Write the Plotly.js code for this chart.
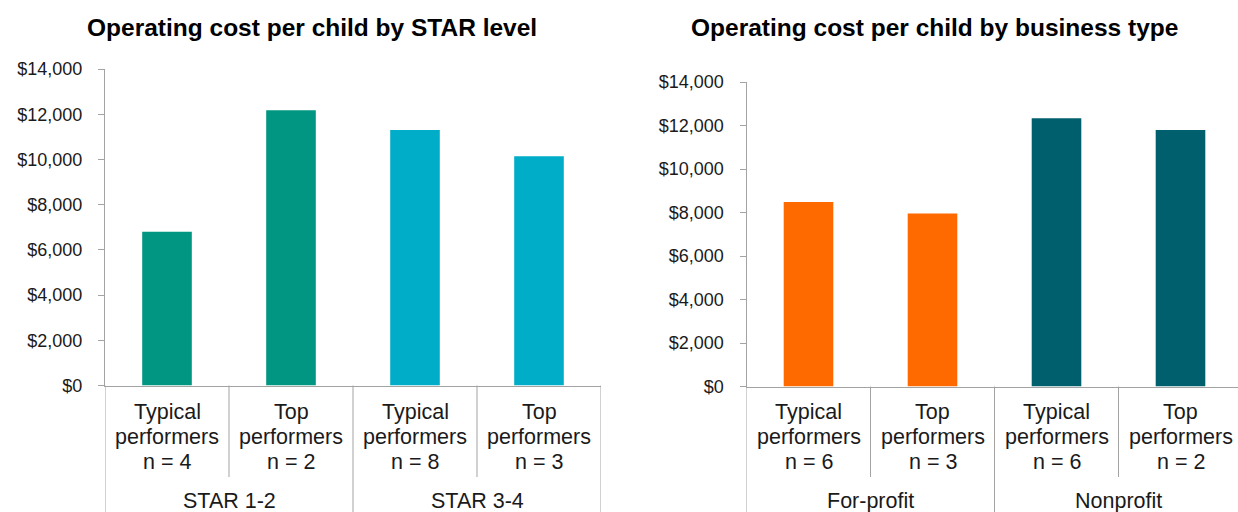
<!DOCTYPE html>
<html>
<head>
<meta charset="utf-8">
<script src="https://cdn.plot.ly/plotly-3.0.1.min.js"></script>
<style>
  html, body { margin: 0; padding: 0; background: #ffffff; overflow: hidden; }
  #chart { width: 1238px; height: 512px; }
</style>
</head>
<body>
<div id="chart"></div>
<script>
// ---- Data ----
const starTitle = 'Operating cost per child by STAR level';
const starCategories = ['Typical performers', 'Top performers', 'Typical performers', 'Top performers'];
const starN = [4, 2, 8, 3];
const starGroups = ['STAR 1-2', 'STAR 3-4'];
const starCost = [6800, 12180, 11300, 10140];

const bizTitle = 'Operating cost per child by business type';
const bizCategories = ['Typical performers', 'Top performers', 'Typical performers', 'Top performers'];
const bizN = [6, 3, 6, 2];
const bizGroups = ['For-profit', 'Nonprofit'];
const bizCost = [8480, 7950, 12330, 11790];

const yTickValues = [0, 2000, 4000, 6000, 8000, 10000, 12000, 14000];
const yTickLabels = ['$0', '$2,000', '$4,000', '$6,000', '$8,000', '$10,000', '$12,000', '$14,000'];

// ---- Styling ----
const W = 1238, H = 512;
const FONT = '"Liberation Sans", Arial, sans-serif';
const TXT = '#1a1a1a';
const AXC = '#a3a3a3';
const starColors = ['#009681', '#009681', '#00adc8', '#00adc8'];
const bizColors = ['#ff6a00', '#ff6a00', '#005f6c', '#005f6c'];

const py = p => 1 - p / H;   // pixel row -> paper y
const px = p => p / W;       // pixel col -> paper x

const idx = starCost.map((_, i) => i);

const traces = [
  { type: 'bar', x: idx, y: starCost, width: 0.40, marker: { color: starColors },
    xaxis: 'x', yaxis: 'y', hoverinfo: 'skip' },
  { type: 'bar', x: idx, y: bizCost, width: 0.40, marker: { color: bizColors },
    xaxis: 'x2', yaxis: 'y2', hoverinfo: 'skip' }
];

function yAxis(domain, anchor) {
  return {
    domain: domain, anchor: anchor, range: [0, 14000], fixedrange: true,
    tickvals: yTickValues, ticktext: yTickLabels,
    showgrid: false, zeroline: false,
    showline: true, linecolor: AXC, linewidth: 1,
    ticks: 'outside', ticklen: 6, tickcolor: AXC, tickwidth: 1,
    ticklabelstandoff: 12,
    tickfont: { family: FONT, size: 18, color: TXT }
  };
}
function xAxis(domain, anchor, range) {
  return {
    domain: domain, anchor: anchor, range: range, fixedrange: true,
    showticklabels: false, showgrid: false, zeroline: false,
    showline: true, linecolor: AXC, linewidth: 1, ticks: ''
  };
}

const annotations = [];
const shapes = [];

function addCategoryAxis(xref, categories, ns, groups, yTopPix) {
  categories.forEach((c, i) => {
    const lines = c.split(' ').concat(['n = ' + ns[i]]);
    const rows = [411.5, 437, 462];
    lines.forEach((t, j) => {
      annotations.push({ xref: xref, yref: 'paper', x: i, y: py(rows[j]),
        xanchor: 'center', yanchor: 'middle', showarrow: false, text: t,
        font: { family: FONT, size: 21.5, color: TXT } });
    });
  });
  groups.forEach((g, k) => {
    annotations.push({ xref: xref, yref: 'paper', x: 2 * k + 0.5, y: py(501),
      xanchor: 'center', yanchor: 'middle', showarrow: false, text: g,
      font: { family: FONT, size: 21.5, color: TXT } });
  });
  for (let b = 0; b <= categories.length; b++) {
    const pos = b - 0.5;
    const outer = (b % 2 === 0);
    shapes.push({ type: 'line', xref: xref, yref: 'paper', x0: pos, x1: pos,
      y0: py(yTopPix), y1: outer ? py(515) : py(477),
      line: { color: AXC, width: 1 } });
  }
}
addCategoryAxis('x', starCategories, starN, starGroups, 385.5);
addCategoryAxis('x2', bizCategories, bizN, bizGroups, 386.5);

annotations.push({ xref: 'paper', yref: 'paper', x: px(312), y: py(27),
  xanchor: 'center', yanchor: 'middle', showarrow: false, text: '<b>' + starTitle + '</b>',
  font: { family: FONT, size: 24.5, color: '#000000' } });
annotations.push({ xref: 'paper', yref: 'paper', x: px(934.5), y: py(27),
  xanchor: 'center', yanchor: 'middle', showarrow: false, text: '<b>' + bizTitle + '</b>',
  font: { family: FONT, size: 24.5, color: '#000000' } });

const layout = {
  width: W, height: H,
  margin: { l: 0, r: 0, t: 0, b: 0 },
  paper_bgcolor: '#ffffff', plot_bgcolor: '#ffffff',
  showlegend: false,
  xaxis: xAxis([px(105), px(601)], 'y', [-0.5, 3.5]),
  yaxis: yAxis([py(385.5), py(69)], 'x'),
  xaxis2: xAxis([px(746.5), 1], 'y2', [-0.5, (W - 746.5) / 124 - 0.5]),
  yaxis2: yAxis([py(386.5), py(82)], 'x2'),
  annotations: annotations,
  shapes: shapes
};

Plotly.newPlot('chart', traces, layout, { staticPlot: true, displayModeBar: false });
</script>
</body>
</html>
